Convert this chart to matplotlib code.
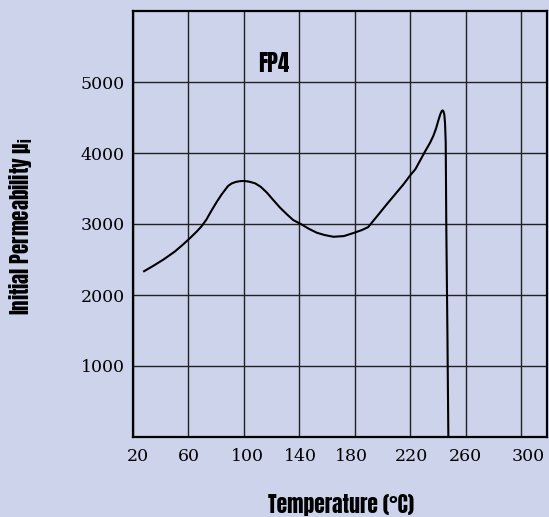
import matplotlib
matplotlib.use("Agg")
import matplotlib.pyplot as plt
import matplotlib.transforms as mtransforms

# temperature (deg C) vs initial permeability
temp = [28, 35, 42, 50, 56, 61, 66, 69.5, 73, 76, 80, 84, 88.5, 91, 94, 97,
        99.5, 102, 104, 108, 112, 116.5, 121, 126, 131, 135.5, 141.5, 147,
        152.5, 158, 164.5, 172, 179.5, 185, 189.5, 193, 197, 203, 209, 215,
        220, 223.5, 230.5, 234, 236.5, 238.5, 240, 241.5, 242.5, 243.2, 243.8,
        244.4, 244.9, 245.4, 245.8, 246.6, 247.3]
perm = [2335, 2415, 2500, 2610, 2710, 2800, 2895, 2970, 3065, 3170, 3300, 3420,
        3535, 3570, 3592, 3603, 3606, 3602, 3595, 3573, 3525, 3442, 3340, 3230,
        3135, 3055, 2994, 2930, 2877, 2845, 2820, 2830, 2877, 2915, 2956, 3040,
        3135, 3280, 3420, 3560, 3690, 3771, 4021, 4140, 4242, 4350, 4453, 4545,
        4590, 4600, 4585, 4540, 4420, 4150, 3000, 1500, 0]

xticks = [20, 60, 100, 140, 180, 220, 260, 300]
xlabel_shift = [5, 0, 3, 1, -4, 1, -1, 6.5]  # px, labels in the scan sit off-grid
yticks = [1000, 2000, 3000, 4000, 5000]

bg = "#ccd3eb"
narrow = ["Anton", "DejaVu Sans"]

fig = plt.figure(figsize=(5.49, 5.17), dpi=100, facecolor=bg)
ax = fig.add_axes([133 / 549, 1 - 437 / 517, 414 / 549, 426 / 517])
ax.set_facecolor(bg)

ax.plot(temp, perm, color="black", lw=1.5, solid_joinstyle="round")

ax.set_xlim(20, 318.4)
ax.set_ylim(0, 6000)
ax.set_xticks(xticks)
ax.set_yticks(yticks)
ax.set_xticklabels([str(t) for t in xticks], family="DejaVu Serif", fontsize=12.5)
ax.set_yticklabels([str(t) for t in yticks], family="DejaVu Serif", fontsize=12.5)
ax.tick_params(length=0)
ax.tick_params(axis="x", pad=8)
ax.tick_params(axis="y", pad=6)
for lab, dx in zip(ax.get_xticklabels(), xlabel_shift):
    lab.set_transform(lab.get_transform() +
                      mtransforms.ScaledTranslation(dx / 100, 0, fig.dpi_scale_trans))
ax.grid(True, color="#222222", lw=1.0)
ax.set_axisbelow(True)
for s in ax.spines.values():
    s.set_linewidth(1.6)
    s.set_color("black")

ax.text(121.5, 5254, "FP4", family=narrow, fontsize=16.5,
        ha="center", va="center")

fig.text(341 / 549, 1 - 505 / 517, "Temperature (\u00b0C)", family=narrow,
         fontsize=15.5, ha="center", va="center")
fig.text(21 / 549, 1 - 226 / 517, "Initial Permeability \u00b5$_\\mathregular{i}$",
         family=narrow, fontsize=15, rotation=90,
         ha="center", va="center")

fig.savefig("out.png", dpi=100, facecolor=bg)
